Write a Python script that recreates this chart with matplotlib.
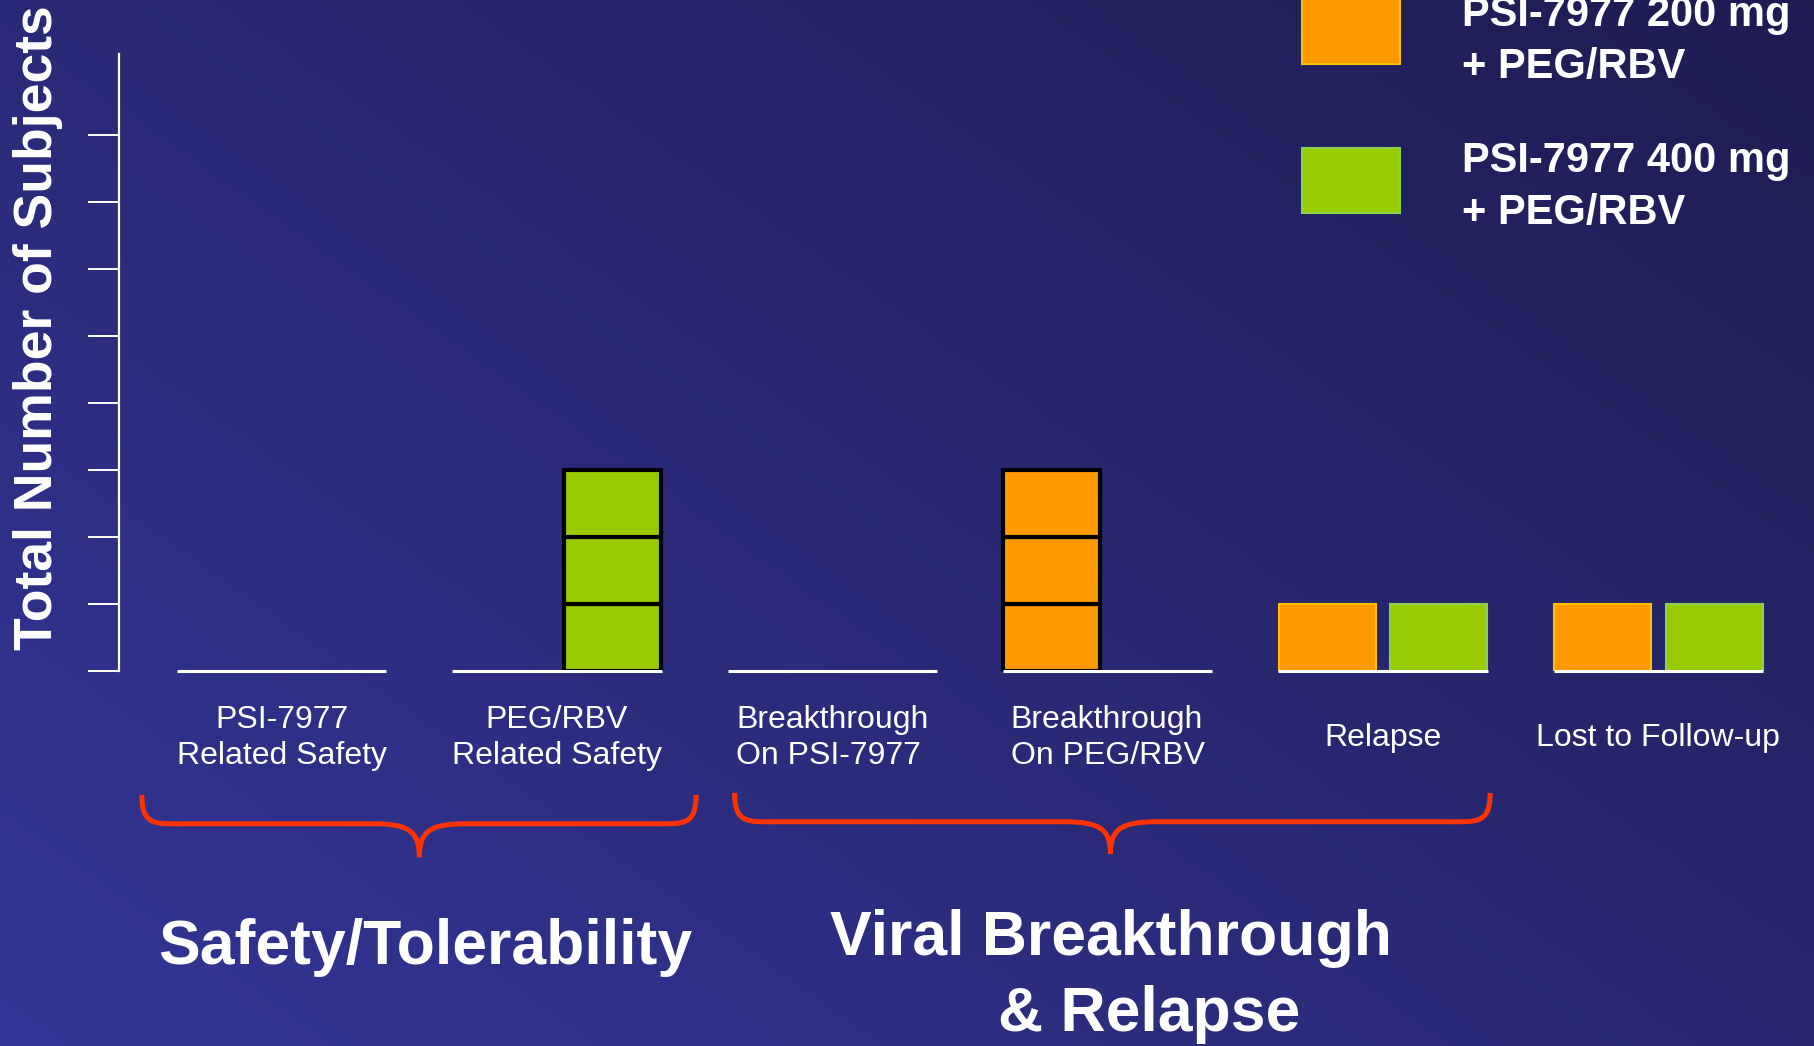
import numpy as np
import matplotlib
matplotlib.use('Agg')
import matplotlib.pyplot as plt
from matplotlib.patches import Rectangle, PathPatch
from matplotlib.path import Path

plt.rcParams['font.family'] = ['Liberation Sans', 'DejaVu Sans']

# data
categories = ['PSI-7977\nRelated Safety', 'PEG/RBV\nRelated Safety',
              'Breakthrough\nOn PSI-7977', 'Breakthrough\nOn PEG/RBV',
              'Relapse', 'Lost to Follow-up']
dose_200 = [0, 0, 0, 3, 1, 1]   # PSI-7977 200 mg + PEG/RBV
dose_400 = [0, 3, 0, 0, 1, 1]   # PSI-7977 400 mg + PEG/RBV
series_labels = ['PSI-7977 200 mg\n+ PEG/RBV', 'PSI-7977 400 mg\n+ PEG/RBV']
y_ticks = [0, 1, 2, 3, 4, 5, 6, 7, 8]
groups = ['Safety/Tolerability', 'Viral Breakthrough', '& Relapse']

orange = '#FF9900'
green = '#99CC00'
edge_light = ['#FFC000', '#8ED04A']
brace_col = '#FF3300'

fig = plt.figure(figsize=(18.15, 10.46), dpi=100)

# background gradient (light bottom-left -> dark top-right)
bg = fig.add_axes([0, 0, 1, 1])
xx, yy = np.meshgrid(np.linspace(0, 1, 400), np.linspace(0, 1, 300))
u = (xx * 0.55 + yy * 0.45)
c0 = np.array([0.20, 0.21, 0.59])
c1 = np.array([0.12, 0.11, 0.32])
img = c0[None, None, :] * (1 - u[..., None]) + c1[None, None, :] * u[..., None]
bg.imshow(img, aspect='auto', extent=[0, 1, 0, 1], origin='lower')
bg.axis('off')

ax = fig.add_axes([119 / 1815, 375 / 1046, 1 - 119 / 1815, 617 / 1046])
ax.patch.set_alpha(0)
ax.set_xlim(-0.591, 5.569)
ax.set_ylim(0, 9.21)

x = np.arange(len(categories))
w = 0.352
off = 0.203

for vals, sign, col, el in [(dose_200, -1, orange, edge_light[0]), (dose_400, 1, green, edge_light[1])]:
    for i, v in enumerate(vals):
        for k in range(v):
            if v > 1:
                # stacked one-box-per-subject columns, black outline
                ax.bar(x[i] + sign * off, 1, w, bottom=k, color=col, edgecolor='black', linewidth=3, zorder=2)
            else:
                ax.bar(x[i] + sign * off, 1, w, bottom=k, color=col, edgecolor=el, linewidth=1.5, zorder=2)

# baseline segments under each category
ax.hlines(np.zeros(len(x)), x - 0.38, x + 0.38, color='white', linewidth=2.2, zorder=3, clip_on=False)

for s in ['top', 'right', 'bottom']:
    ax.spines[s].set_visible(False)
ax.spines['left'].set_color('white')
ax.spines['left'].set_linewidth(1.6)
ax.set_yticks(y_ticks)
ax.set_yticklabels([])
ax.tick_params(axis='y', direction='out', length=22, width=1.4, color='white')
ax.set_xticks([])

aligns = ['center', 'center', 'left', 'left', 'center', 'center']
for i, lab in enumerate(categories):
    ax.text(x[i], -1.0, lab, ha='center', va='center', multialignment=aligns[i],
            color='white', fontsize=23, linespacing=1.3, clip_on=False)


def brace(x0, x1, xm, y_top, y_line, y_tip, r):
    verts = [(x0, y_top),
             (x0, y_line - 0.05), (x0 + r * 0.3, y_line), (x0 + r, y_line),
             (xm - r, y_line),
             (xm - r * 0.25, y_line), (xm, y_line - 0.1), (xm, y_tip),
             (xm, y_line - 0.1), (xm + r * 0.25, y_line), (xm + r, y_line),
             (x1 - r, y_line),
             (x1 - r * 0.3, y_line), (x1, y_line - 0.05), (x1, y_top)]
    codes = [Path.MOVETO,
             Path.CURVE4, Path.CURVE4, Path.CURVE4,
             Path.LINETO,
             Path.CURVE4, Path.CURVE4, Path.CURVE4,
             Path.CURVE4, Path.CURVE4, Path.CURVE4,
             Path.LINETO,
             Path.CURVE4, Path.CURVE4, Path.CURVE4]
    p = PathPatch(Path(verts, codes), facecolor='none', edgecolor=brace_col,
                  linewidth=3.6, clip_on=False, capstyle='butt')
    ax.add_patch(p)


brace(x[0] - 0.508, x[1] + 0.505, 0.5, -1.85, -2.28, -2.78, 0.17)
brace(x[2] - 0.355, x[4] + 0.389, 3.01, -1.82, -2.25, -2.73, 0.17)

ax.text(0.52, -4.12, groups[0], ha='center', va='center', color='white',
        fontsize=45, fontweight='bold', clip_on=False)
ax.text(3.01, -3.99, groups[1], ha='center', va='center', color='white',
        fontsize=45, fontweight='bold', clip_on=False)
ax.text(3.15, -5.12, groups[2], ha='center', va='center', color='white',
        fontsize=45, fontweight='bold', clip_on=False)

# y label
fig.text(38 / 1815, 1 - 328 / 1046, 'Total Number of Subjects', rotation=90,
         ha='center', va='center', color='white', fontsize=38.5, fontweight='bold')

# legend
fig.add_artist(Rectangle((1302 / 1815, 982 / 1046), 98 / 1815, 66 / 1046, transform=fig.transFigure,
                         facecolor=orange, edgecolor=edge_light[0], linewidth=1.5))
fig.add_artist(Rectangle((1302 / 1815, 833 / 1046), 98 / 1815, 65 / 1046, transform=fig.transFigure,
                         facecolor=green, edgecolor=edge_light[1], linewidth=1.5))
fig.text(1462 / 1815, 1 - 41 / 1046, series_labels[0], ha='left', va='center', color='white',
         fontsize=30, fontweight='bold', linespacing=1.38)
fig.text(1462 / 1815, 1 - 187 / 1046, series_labels[1], ha='left', va='center', color='white',
         fontsize=30, fontweight='bold', linespacing=1.38)

fig.savefig('out.png', dpi=100)
